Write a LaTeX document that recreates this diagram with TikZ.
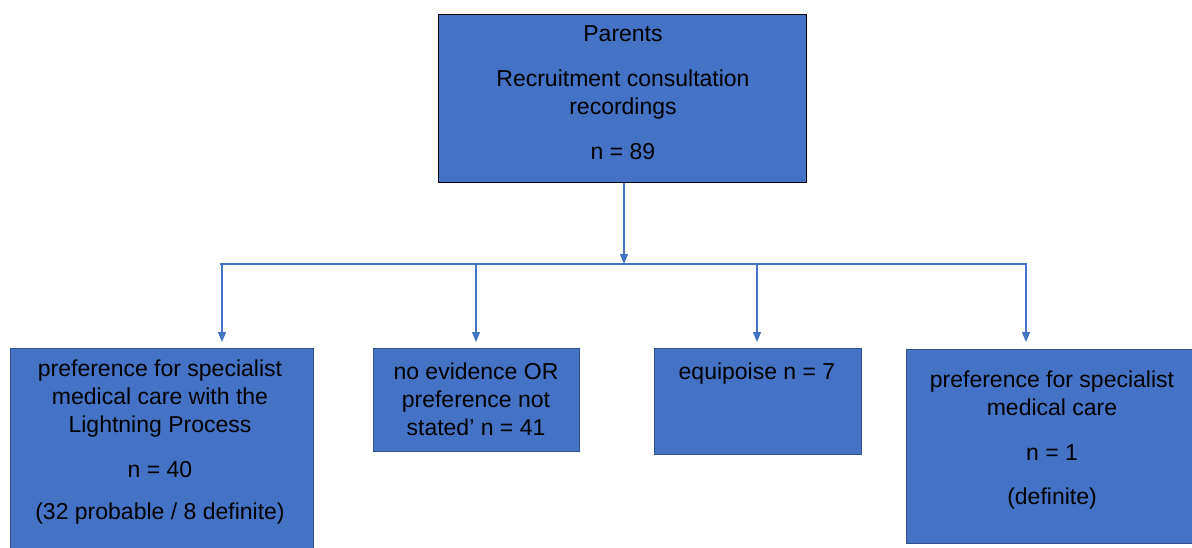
\documentclass[tikz,border=0pt]{standalone}
\usepackage{fontspec}
\setmainfont{Liberation Sans}
\usetikzlibrary{arrows.meta}
\definecolor{boxblue}{HTML}{4472C4}
\definecolor{edgeblue}{HTML}{2F528F}
\definecolor{linkblue}{HTML}{4472C4}

\begin{document}
\begin{tikzpicture}[x=1pt,y=-1pt,
  box/.style={rectangle, draw=edgeblue, line width=0.9pt, fill=boxblue,
    inner sep=0pt, anchor=north west},
  topbox/.style={box, draw=black, line width=1.4pt},
  boxtext/.style={anchor=north, inner sep=0pt, align=center, text=black,
    font=\fontsize{23}{28}\selectfont},
  link/.style={draw=linkblue, line width=1.2pt},
  arrowlink/.style={link, -{Triangle[width=8pt,length=10pt]}}]

\useasboundingbox (0,0) rectangle (1192,547);

% boxes
\node[topbox, minimum width=368pt, minimum height=168pt] (parents) at (438,14) {};
\node[box, minimum width=303pt, minimum height=210pt] (lp) at (10,348) {};
\node[box, minimum width=206pt, minimum height=103pt] (none) at (373,348) {};
\node[box, minimum width=207pt, minimum height=106pt] (equi) at (654,348) {};
\node[box, minimum width=292pt, minimum height=194pt] (spec) at (906,349) {};

% box texts
\node[boxtext] (parentsText) at (623,25)
  {Parents\\[17pt]Recruitment consultation\\recordings\\[17pt]n = 89};
\node[boxtext] (lpText) at (160,360)
  {preference for specialist\\medical care with the\\Lightning Process\\[17pt]n = 40\\[14pt](32 probable / 8 definite)};
\node[boxtext] (noneText) at (476,363)
  {no evidence OR\\preference not\\stated’ n = 41};
\node[boxtext] (equiText) at (757,363) {equipoise n = 7};
\node[boxtext] (specText) at (1052,371)
  {preference for specialist\\medical care\\[17pt]n = 1\\[16pt](definite)};

% connectors
\coordinate (split) at (624,264);
\coordinate (railL) at (220,264);
\coordinate (railR) at (1027,264);
\coordinate (d1) at (222,264);
\coordinate (d2) at (476,264);
\coordinate (d3) at (757,264);
\coordinate (d4) at (1026,264);

\draw[arrowlink] (parents.south -| split) -- (split);
\draw[link] (railL) -- (railR);
\draw[arrowlink, shorten >=6pt] (d1) -- (d1 |- lp.north);
\draw[arrowlink, shorten >=6pt] (d2) -- (d2 |- none.north);
\draw[arrowlink, shorten >=6pt] (d3) -- (d3 |- equi.north);
\draw[arrowlink, shorten >=7pt] (d4) -- (d4 |- spec.north);
\end{tikzpicture}
\end{document}
